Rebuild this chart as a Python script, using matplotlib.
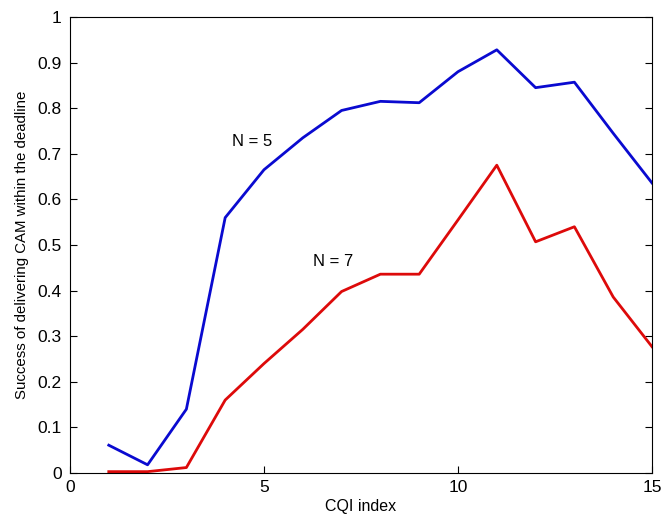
import matplotlib
matplotlib.use("Agg")
import matplotlib.pyplot as plt

cqi = [1, 2, 3, 4, 5, 6, 7, 8, 9, 10, 11, 12, 13, 14, 15]
n5 = [0.061, 0.018, 0.14, 0.56, 0.665, 0.735, 0.795, 0.815, 0.812, 0.88, 0.928, 0.845, 0.857, 0.745, 0.636]
n7 = [0.003, 0.003, 0.012, 0.16, 0.24, 0.315, 0.398, 0.436, 0.436, 0.555, 0.675, 0.507, 0.54, 0.386, 0.277]
xticks = [0, 5, 10, 15]
yticks = [0, 0.1, 0.2, 0.3, 0.4, 0.5, 0.6, 0.7, 0.8, 0.9, 1]
ytick_labels = ["0", "0.1", "0.2", "0.3", "0.4", "0.5", "0.6", "0.7", "0.8", "0.9", "1"]

plt.rcParams['font.family'] = ['Liberation Sans', 'DejaVu Sans']

fig = plt.figure(figsize=(6.62, 5.21), dpi=100)
ax = fig.add_axes([0.1057, 0.0921, 0.8792, 0.8753])
ax.plot(cqi, n5, color='#0A0AD0', lw=2)
ax.plot(cqi, n7, color='#DD0A0A', lw=2)
ax.set_xlim(0, 15)
ax.set_ylim(0, 1)
ax.set_xticks(xticks)
ax.set_yticks(yticks)
ax.set_yticklabels(ytick_labels)
ax.tick_params(direction='in', length=5, labelsize=12.5, top=False, right=True)
ax.tick_params(axis='x', pad=5)
ax.tick_params(axis='y', pad=6)
ax.set_xlabel('CQI index', fontsize=11.5, labelpad=3)
ax.set_ylabel('Success of delivering CAM within the deadline', fontsize=10.8, labelpad=6)
ax.text(4.18, 0.726, 'N = 5', fontsize=12, va='center', ha='left')
ax.text(6.26, 0.463, 'N = 7', fontsize=12, va='center', ha='left')
for s in ax.spines.values():
    s.set_linewidth(0.8)
fig.savefig('out.png', dpi=100)
